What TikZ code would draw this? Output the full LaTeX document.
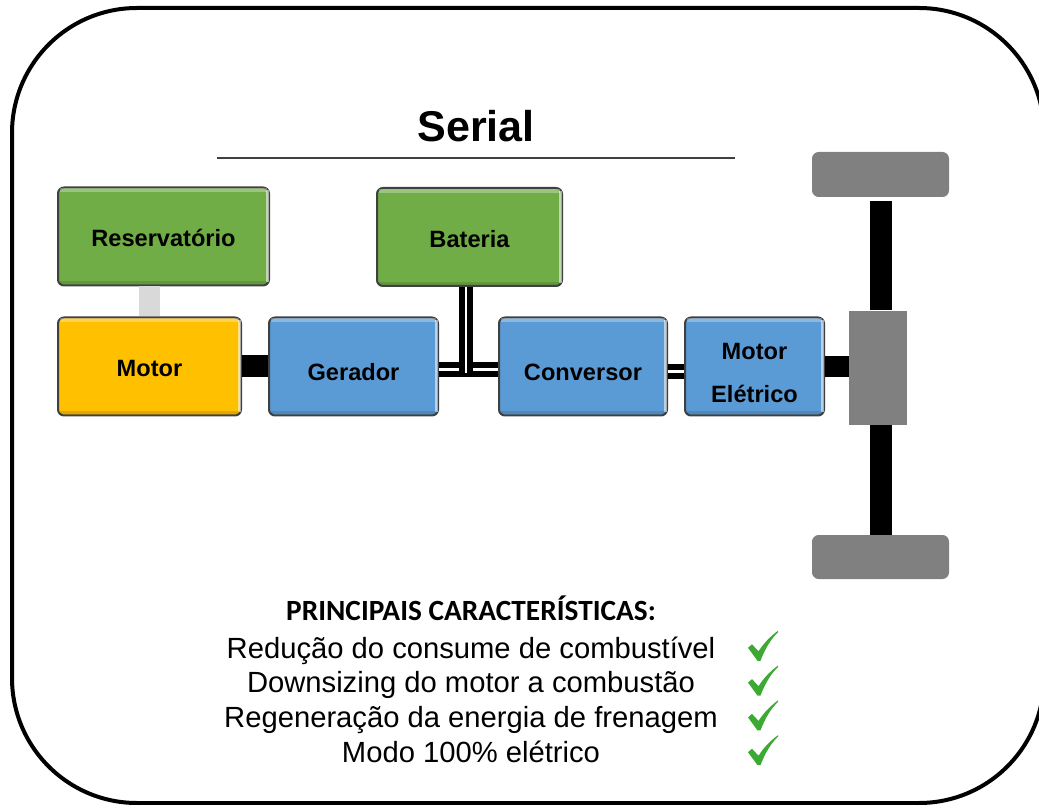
\documentclass[tikz,border=0pt]{standalone}
\usepackage{fontspec}
\setmainfont{Liberation Sans}
\newfontfamily\calibrifont{Carlito}
\usetikzlibrary{calc}

\definecolor{boxgreen}{RGB}{112,173,71}
\definecolor{boxblue}{RGB}{91,155,213}
\definecolor{boxyellow}{RGB}{255,192,0}
\definecolor{partgray}{RGB}{128,128,128}
\definecolor{linkgray}{RGB}{217,217,217}
\definecolor{edgegray}{RGB}{64,64,64}
\definecolor{checkgreen}{RGB}{60,170,50}

\tikzset{every picture/.style={line width=0.75pt}}
\tikzset{
  block/.style={draw=edgegray, line width=1.5pt, rounded corners=4.5pt, minimum height=73.5pt, inner sep=0pt, align=center, text height=19pt, text depth=4pt, font=\fontsize{17.7}{32}\selectfont\bfseries},
  part/.style={fill=partgray, inner sep=0pt},
  shaft/.style={line width=16.5pt},
  wire/.style={line width=4.5pt, double, double distance=2pt},
  item/.style={anchor=base, inner sep=0pt, font=\fontsize{21.9}{26}\selectfont},
}

\begin{document}
\begin{tikzpicture}[x=0.75pt,y=0.75pt,yscale=-1,xscale=1]
	\clip (0,0) rectangle (1039,805);
	\useasboundingbox (0,0) rectangle (1039,805);

	%Outer frame
	\draw [line width=3pt, rounded corners=93.75pt] (12,8) rectangle (1044,803);

	%Title
	\node [anchor=base, font=\fontsize{32.3}{36}\selectfont\bfseries] (title) at (476,142) {Serial};
	\draw [line width=1.5pt, edgegray] (217,158) -- (735,158);

	%Blocks
	\node [block, fill=boxgreen, minimum width=158.25pt] (res) at (163.5,236.5) {Reservatório};
	\node [block, fill=boxgreen, minimum width=138.75pt, text height=20pt] (bat) at (469.5,237) {Bateria};
	\node [block, fill=boxyellow, minimum width=137.25pt] (mot) at (149.5,366.5) {Motor};
	\node [block, fill=boxblue, minimum width=126.75pt, text height=25pt] (ger) at (353.5,366.5) {Gerador};
	\node [block, fill=boxblue, minimum width=126pt, text height=25pt] (conv) at (583,366.5) {Conversor};
	\node [block, fill=boxblue, minimum width=104.25pt, text height=57.9pt, text depth=4pt] (mele) at (754.5,366.5) {Motor\\Elétrico};

	%Bevel
	\foreach \n in {res,bat,mot,ger,conv,mele} {
		\fill [white, opacity=0.3] ($(\n.north west)+(3,2)$) rectangle ($(\n.north east)+(-3,6)$);
		\fill [white, opacity=0.55] ($(\n.north east)+(-4,4)$) rectangle ($(\n.south east)+(-1.5,-4)$);
		\fill [black, opacity=0.12] ($(\n.south west)+(3,-5)$) rectangle ($(\n.south east)+(-3,-2)$);
	}

	%Axle and wheels
	\node [part, minimum width=102.75pt, minimum height=33.75pt, rounded corners=5pt] (whtop) at (880.5,174.5) {};
	\node [part, minimum width=102.75pt, minimum height=33pt, rounded corners=5pt] (whbot) at (880.5,557) {};
	\node [part, minimum width=43.5pt, minimum height=85.5pt] (diff) at (878,368) {};

	%Links
	\draw [linkgray, line width=15.75pt] (mot.north |- res.south) -- (mot.north);
	\draw [shaft] (mot.east) -- (ger.west);
	\draw [wire] ($(ger.east)+(0,3)$) -- ($(conv.west)+(0,3)$);
	\coordinate (jct) at (466,373);
	\draw [wire] (bat.south -| jct) -- (jct);
	\draw [wire] ($(conv.east)+(0,5)$) -- ($(mele.west)+(0,5)$);
	\draw [line width=15.75pt] (mele.east) -- (mele.east -| diff.west);
	\draw [shaft] ($(whtop.south)+(0,4)$) -- (whtop.south |- diff.north);
	\draw [shaft] (whbot.north |- diff.south) -- (whbot.north);

	%Features
	\node [anchor=base, inner sep=0pt, font=\fontsize{22}{26}\calibrifont\bfseries] (head) at (471,620) {PRINCIPAIS CARACTERÍSTICAS:};
	\foreach \txt [count=\i] in {Redução do consume de combustível, Downsizing do motor a combustão, Regeneração da energia de frenagem, Modo 100\% elétrico} {
		\node [item] (feat\i) at (471,623.3+34.7*\i) {\txt};
		% check mark
		\fill [checkgreen, shift={(748,596+34.8*\i)}] (0,17) -- (4,13.5) -- (10.5,20.5) .. controls (16,12) and (23,5) .. (30,0) -- (30,1.5) .. controls (23,8) and (17,18) .. (12.5,30) -- (9.5,30) -- cycle;
	}

\end{tikzpicture}
\end{document}
